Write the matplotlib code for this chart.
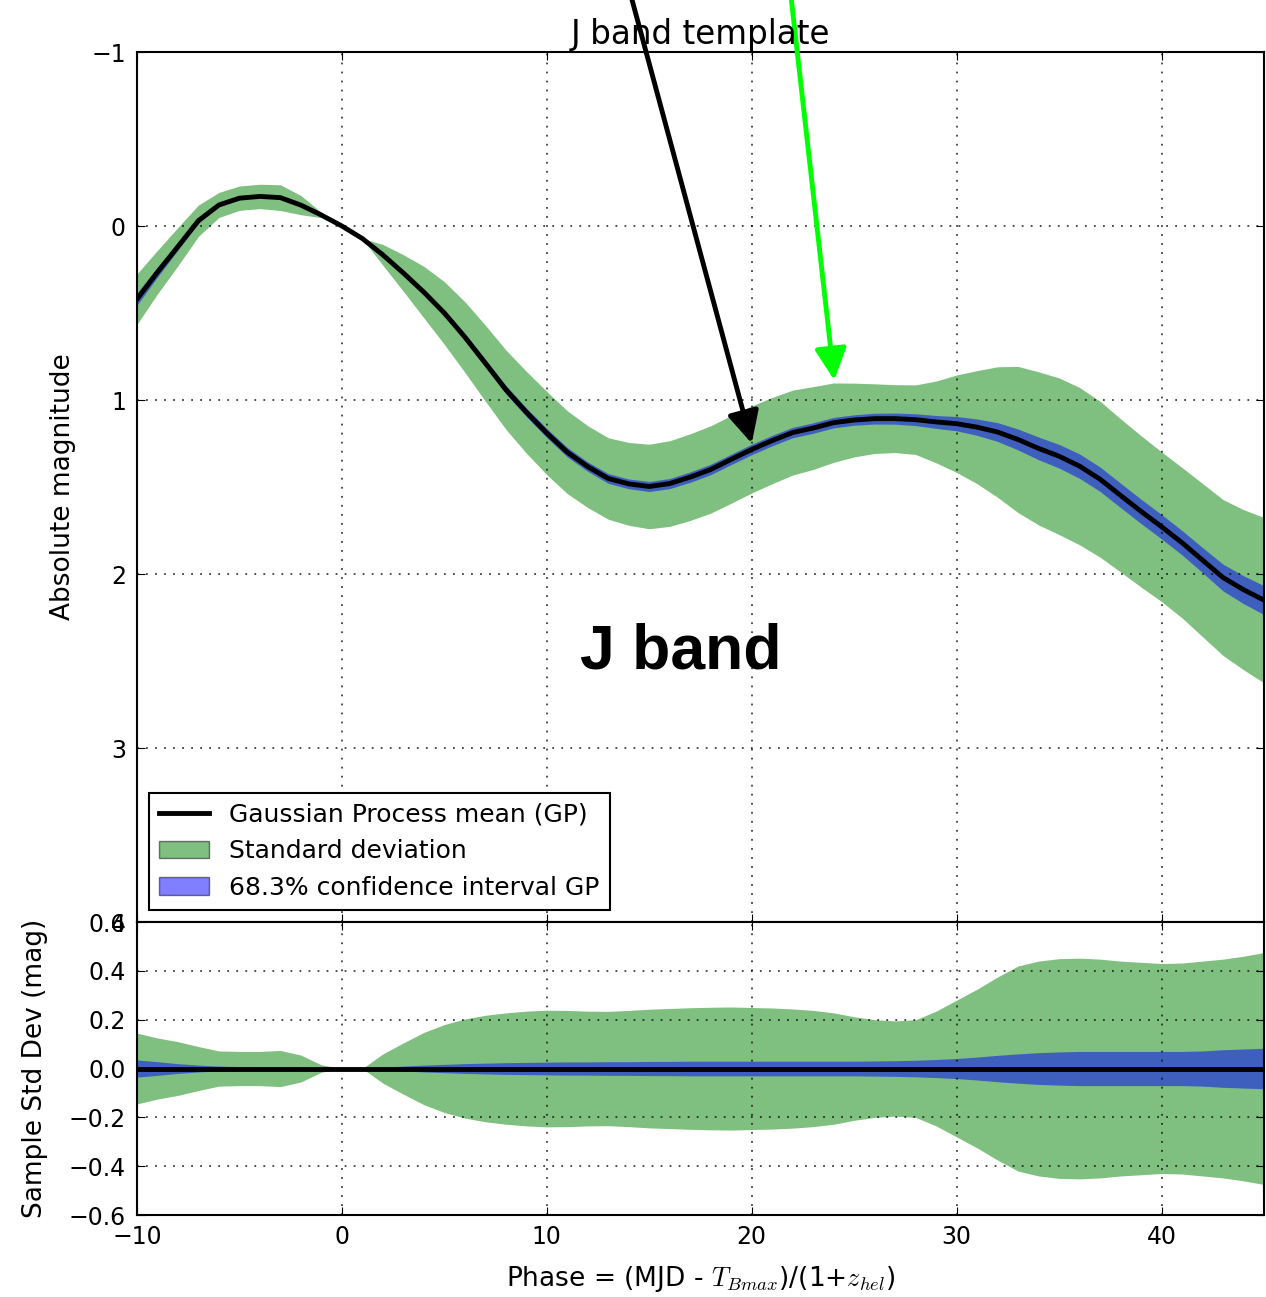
import matplotlib
matplotlib.use('Agg')
import matplotlib.pyplot as plt
from matplotlib.lines import Line2D
from matplotlib.patches import Patch
import numpy as np

plt.rcParams.update({
    'font.family': 'DejaVu Sans',
    'mathtext.fontset': 'cm',
    'font.size': 17,
    'xtick.direction': 'in',
    'ytick.direction': 'in',
    'xtick.top': True,
    'ytick.right': True,
    'xtick.major.size': 6,
    'ytick.major.size': 6,
    'xtick.major.pad': 7,
    'ytick.major.pad': 8,
    'axes.linewidth': 1.5,
})

# ---- data (phase in days) ----
phase = np.arange(-10, 46)

gp_mean = [0.42, 0.265, 0.118, -0.031, -0.121, -0.16, -0.17, -0.163, -0.12, -0.063,
           0.0, 0.072, 0.166, 0.27, 0.38, 0.50, 0.638, 0.788, 0.94, 1.07,
           1.19, 1.30, 1.383, 1.451, 1.482, 1.497, 1.48, 1.443, 1.399, 1.341,
           1.284, 1.233, 1.187, 1.161, 1.13, 1.115, 1.107, 1.107, 1.113, 1.126,
           1.136, 1.156, 1.184, 1.227, 1.278, 1.323, 1.38, 1.455, 1.548, 1.64,
           1.728, 1.82, 1.92, 2.02, 2.09, 2.15]

sample_std = [0.145, 0.125, 0.11, 0.09, 0.072, 0.07, 0.07, 0.074, 0.055, 0.015,
              0.0, 0.0, 0.06, 0.105, 0.148, 0.18, 0.203, 0.218, 0.228, 0.235,
              0.239, 0.238, 0.235, 0.234, 0.238, 0.243, 0.246, 0.249, 0.251, 0.252,
              0.25, 0.248, 0.244, 0.238, 0.228, 0.212, 0.2, 0.195, 0.2, 0.235,
              0.28, 0.325, 0.375, 0.42, 0.44, 0.45, 0.452, 0.448, 0.44, 0.435,
              0.43, 0.432, 0.44, 0.448, 0.46, 0.475]

gp_err = [0.035, 0.028, 0.02, 0.014, 0.01, 0.008, 0.006, 0.005, 0.004, 0.002,
          0.0, 0.002, 0.006, 0.01, 0.014, 0.017, 0.02, 0.022, 0.024, 0.025,
          0.026, 0.027, 0.027, 0.028, 0.028, 0.029, 0.029, 0.03, 0.03, 0.03,
          0.03, 0.03, 0.03, 0.03, 0.03, 0.03, 0.031, 0.032, 0.034, 0.037,
          0.041, 0.047, 0.054, 0.06, 0.065, 0.068, 0.07, 0.07, 0.07, 0.07,
          0.07, 0.07, 0.072, 0.077, 0.08, 0.083]

mean = np.array(gp_mean)
std = np.array(sample_std)
err = np.array(gp_err)
zero = np.zeros_like(mean)

# annotation arrows (tail, tip) in data coords
black_arrow = ((13.93, -1.40), (20.0, 1.249))
green_arrow = ((21.84, -1.40), (24.03, 0.886))

grid_kw = dict(color='k', linestyle=(0, (1, 4)), linewidth=1.3, alpha=0.75)

fig = plt.figure(figsize=(12.66, 12.97), dpi=100)
ax1 = fig.add_axes([0.1082, 0.2891, 0.8902, 0.6708])
ax2 = fig.add_axes([0.1082, 0.0632, 0.8902, 0.2259], sharex=ax1)

# ─── top panel: template ───
ax1.fill_between(phase, mean - std, mean + std, color='g', alpha=0.5, lw=0)
ax1.fill_between(phase, mean - err, mean + err, color='b', alpha=0.5, lw=0)
ax1.plot(phase, mean, color='k', lw=3.5)
ax1.set_xlim(-10, 45)
ax1.set_ylim(4, -1)
ax1.set_yticks([-1, 0, 1, 2, 3, 4])
ax1.set_ylabel('Absolute magnitude', fontsize=19, labelpad=11)
ax1.set_title('J band template', fontsize=23.5, pad=6)
ax1.grid(True, **grid_kw)
plt.setp(ax1.get_xticklabels(), visible=False)

ax1.text(16.54, 2.543, 'J band', fontsize=45, fontweight='bold',
         family='Liberation Sans', ha='center', va='baseline')

for (tail, tip), col in [(black_arrow, 'k'), (green_arrow, '#00ff00')]:
    ax1.annotate('', xy=tip, xytext=tail, annotation_clip=False,
                 arrowprops=dict(arrowstyle='-|>', color=col, lw=3.5,
                                 mutation_scale=48, shrinkA=0, shrinkB=0))

handles = [Line2D([], [], color='k', lw=3.5),
           Patch(facecolor=(0, 0.5, 0, 0.5), edgecolor=(0, 0, 0, 0.5), lw=1),
           Patch(facecolor=(0, 0, 1, 0.5), edgecolor=(0, 0, 0, 0.5), lw=1)]
labels = ['Gaussian Process mean (GP)', 'Standard deviation', '68.3% confidence interval GP']
leg = ax1.legend(handles, labels, loc='lower left', fontsize=18, fancybox=False,
                 framealpha=1, edgecolor='k')
leg.get_frame().set_linewidth(1.5)

# ─── bottom panel: spread around the mean ───
ax2.fill_between(phase, zero - std, zero + std, color='g', alpha=0.5, lw=0)
ax2.fill_between(phase, zero - err, zero + err, color='b', alpha=0.5, lw=0)
ax2.plot(phase, zero, color='k', lw=3.5)
ax2.set_ylim(-0.6, 0.6)
ax2.set_yticks([-0.6, -0.4, -0.2, 0.0, 0.2, 0.4, 0.6])
ax2.set_xticks([-10, 0, 10, 20, 30, 40])
ax2.set_ylabel('Sample Std Dev (mag)', fontsize=19, labelpad=15)
ax2.set_xlabel(r'Phase = (MJD - $T_{Bmax}$)/(1+$z_{hel}$)', fontsize=19, labelpad=11)
ax2.grid(True, **grid_kw)

fig.savefig('out.png', dpi=100)
